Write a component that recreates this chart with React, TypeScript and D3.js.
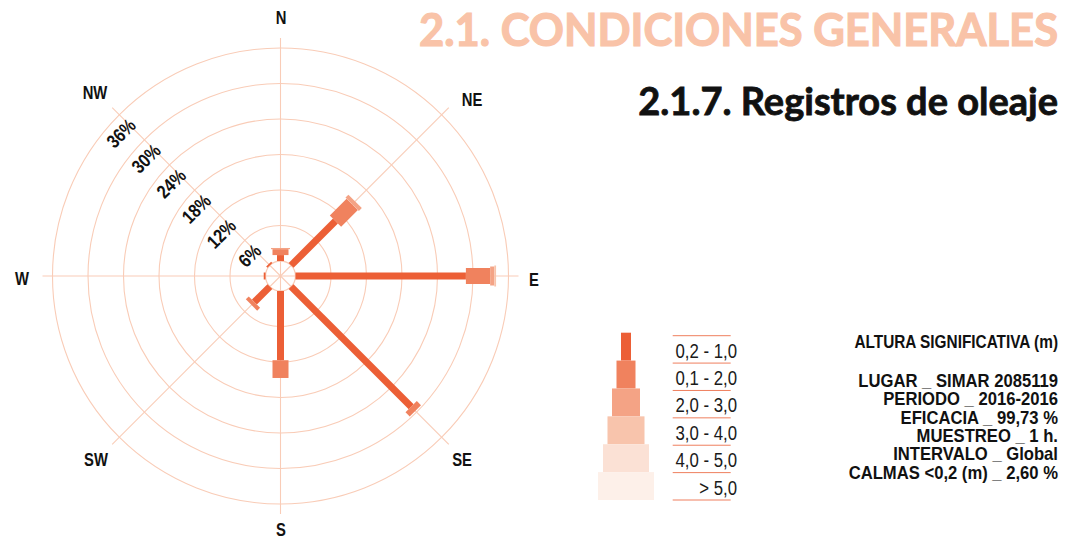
import React from 'react';
import * as d3 from 'd3';

// wave rose data (% of time), directions clockwise from N
const directions = ['N', 'NE', 'E', 'SE', 'S', 'SW', 'W', 'NW'];
const heightClasses = ['0,2 - 1,0', '0,1 - 2,0', '2,0 - 3,0', '3,0 - 4,0', '4,0 - 5,0', '> 5,0'];
const h02_10 = [1.0, 10.6, 28.8, 28.7, 11.7, 3.7, 0.3, 0.3];
const h10_20 = [1.0, 4.0, 4.1, 1.0, 3.0, 0.7, 0, 0];
const h20_30 = [0.2, 0.7, 0.7, 0, 0, 0, 0, 0];
const h30_40 = [0, 0, 0.3, 0, 0, 0, 0, 0];
const h40_50 = [0, 0, 0, 0, 0, 0, 0, 0];
const h50 = [0, 0, 0, 0, 0, 0, 0, 0];
const ringTicks = [6, 12, 18, 24, 30, 36];

const infoTitle = 'ALTURA SIGNIFICATIVA (m)';
const infoLines = [
  'LUGAR _ SIMAR 2085119',
  'PERIODO _ 2016-2016',
  'EFICACIA _ 99,73 %',
  'MUESTREO _ 1 h.',
  'INTERVALO _ Global',
  'CALMAS <0,2 (m) _ 2,60 %',
];

const classColors = ['#EC5F36', '#F0825E', '#F4A385', '#F8C4AC', '#FBE1D5', '#FDF0E9'];
const barWidths = [7, 16, 19, 21, 24, 27];
const legendWidths = [10, 19, 28, 37, 46, 56];
const gridColor = '#F9CCB7';
const sans = '"Liberation Sans", Arial, sans-serif';
const heavy = 'Lato, "Open Sans", sans-serif';

// narrow text: regular sans squeezed horizontally
const Narrow: React.FC<{
  x: number; y: number; size: number; sx?: number; rotate?: number;
  anchor?: string; bold?: boolean; color?: string; baseline?: string; children: string;
}> = ({ x, y, size, sx = 0.82, rotate = 0, anchor = 'start', bold = false, color = '#111', baseline, children }) => (
  <text transform={`translate(${x},${y}) rotate(${rotate}) scale(${sx},1)`} textAnchor={anchor}
    dominantBaseline={baseline} fontFamily={sans} fontWeight={bold ? 'bold' : 'normal'} fontSize={size} fill={color}>
    {children}
  </text>
);

const App: React.FC = () => {
  const cx = 280.5;
  const cy = 276;
  const r = d3.scaleLinear().domain([0, 36]).range([15, 228]);
  const angle = d3.scaleOrdinal<string, number>().domain(directions).range(directions.map((_, i) => i * 45));

  const series = [h02_10, h10_20, h20_30, h30_40, h40_50, h50];

  // stacked segments per direction
  const segments: { dir: string; cls: number; p0: number; p1: number }[] = [];
  directions.forEach((dir, i) => {
    const cum = d3.cumsum(series.map(s => s[i]));
    series.forEach((s, k) => {
      if (s[i] > 0) segments.push({ dir, cls: k, p0: k === 0 ? 0 : cum[k - 1], p1: cum[k] });
    });
  });

  const u = Math.SQRT1_2;
  const legendRow = d3.scaleLinear().domain([0, 6]).range([332.7, 500]);
  const legendLine = d3.scaleLinear().domain([0, 6]).range([335.7, 500]);

  const compassPos: Record<string, [number, number]> = {
    N: [281, 18], NE: [472, 100], E: [534, 280], SE: [462, 460],
    S: [281, 530], SW: [96, 460], W: [22, 279], NW: [95, 93],
  };

  return (
    <div style={{ position: 'absolute', left: 0, top: 0 }}>
      <svg width={1065} height={541} style={{ display: 'block', background: '#fff' }}>
        {/* grid */}
        <g transform={`translate(${cx},${cy})`}>
          {directions.map(d => (
            <line key={d} x1={0} y1={0} x2={0} y2={-238} stroke={gridColor} strokeWidth={1.1}
              transform={`rotate(${angle(d)})`} />
          ))}
          {ringTicks.map(t => (
            <circle key={t} r={r(t)} fill="none" stroke={gridColor} strokeWidth={1.1} />
          ))}
          <circle r={15} fill="none" stroke={gridColor} strokeWidth={1.3} />
          {segments.map((s, i) => (
            <rect key={i} transform={`rotate(${angle(s.dir)})`}
              x={-barWidths[s.cls] / 2} y={-r(s.p1)} width={barWidths[s.cls]}
              height={r(s.p1) - r(s.p0)} fill={classColors[s.cls]} />
          ))}
        </g>

        {/* ring labels along NW spoke, just inside each ring */}
        {ringTicks.map(t => {
          const a = r(t) - 21;
          const p = -4;
          return (
            <Narrow key={t} x={cx - a * u - p * u} y={cy - a * u + p * u} rotate={-45} anchor="end"
              size={19} sx={0.84} bold>{`${t}%`}</Narrow>
          );
        })}

        {/* compass labels */}
        {directions.map(d => (
          <Narrow key={d} x={compassPos[d][0]} y={compassPos[d][1]} anchor="middle" baseline="central"
            size={18.5} sx={0.8} bold>{d}</Narrow>
        ))}

        {/* titles */}
        <text transform="translate(1058,46) scale(0.967,1)" textAnchor="end" fontFamily={heavy} fontWeight={700}
          fontSize={45} fill="#F9C3A8" stroke="#F9C3A8" strokeWidth={1.2}>2.1. CONDICIONES GENERALES</text>
        <text x={1058} y={115} textAnchor="end" fontFamily={heavy} fontWeight={700} fontSize={38}
          fill="#111" stroke="#111" strokeWidth={0.8}>2.1.7. Registros de oleaje</text>

        {/* legend */}
        {heightClasses.map((c, i) => (
          <g key={c}>
            <rect x={626 - legendWidths[i] / 2} y={legendRow(i)} width={legendWidths[i]}
              height={legendRow(i + 1) - legendRow(i)} fill={classColors[i]} />
            <Narrow x={737} y={legendLine(i) + 22} anchor="end" size={21} sx={0.8} color="#1a1a1a">{c}</Narrow>
          </g>
        ))}
        {d3.range(7).map(i => (
          <line key={i} x1={672.7} x2={730.7} y1={legendLine(i)} y2={legendLine(i)} stroke="#EF7F5E" strokeWidth={1} />
        ))}

        {/* info block */}
        <Narrow x={1058} y={348} anchor="end" size={18.5} sx={0.83} bold>{infoTitle}</Narrow>
        {infoLines.map((l, i) => (
          <Narrow key={l} x={1058} y={387 + i * 18.3} anchor="end" size={18.5} sx={0.9} bold>{l}</Narrow>
        ))}
      </svg>
    </div>
  );
};

export default App;
